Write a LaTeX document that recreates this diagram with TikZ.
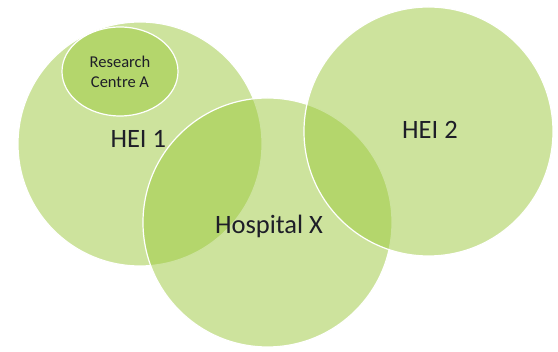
\documentclass[tikz,border=0pt]{standalone}
\usepackage{fontspec}
\setmainfont{Carlito}
\usepackage{tikz}
\usetikzlibrary{shapes}
\definecolor{venngreen}{RGB}{155,200,60}
\definecolor{labelink}{RGB}{30,30,40}
\tikzstyle{venn}=[circle, fill=venngreen, fill opacity=0.5, draw=white, line width=1.2pt, inner sep=0pt]
\tikzstyle{centre}=[ellipse, fill=venngreen, fill opacity=0.5, text opacity=1, draw=white, line width=1.2pt, inner sep=0pt, align=center, text=labelink, font=\fontsize{16.5}{20}\selectfont]
\tikzstyle{biglabel}=[anchor=base, inner sep=0pt, text=labelink, font=\fontsize{26.5}{32}\selectfont]

\begin{document}
\begin{tikzpicture}[x=1pt, y=-1pt]
\useasboundingbox (0,0) rectangle (558,352);
\foreach \n/\x/\y/\d in {hei1/140/144/244, hosp/267.5/222.5/249, hei2/428.5/131.5/249} {
 \node[venn, minimum size=\d pt] (\n) at (\x,\y) {};
}
\node[centre, minimum width=116pt, minimum height=89pt] (rca) at (120,71.5) {Research\\Centre A};
\node[biglabel] (hei1label) at (138.3,147.3) {HEI 1};
\node[biglabel] (hosplabel) at (269,233.3) {Hospital X};
\node[biglabel] (hei2label) at (430,138.3) {HEI 2};
\end{tikzpicture}
\end{document}
